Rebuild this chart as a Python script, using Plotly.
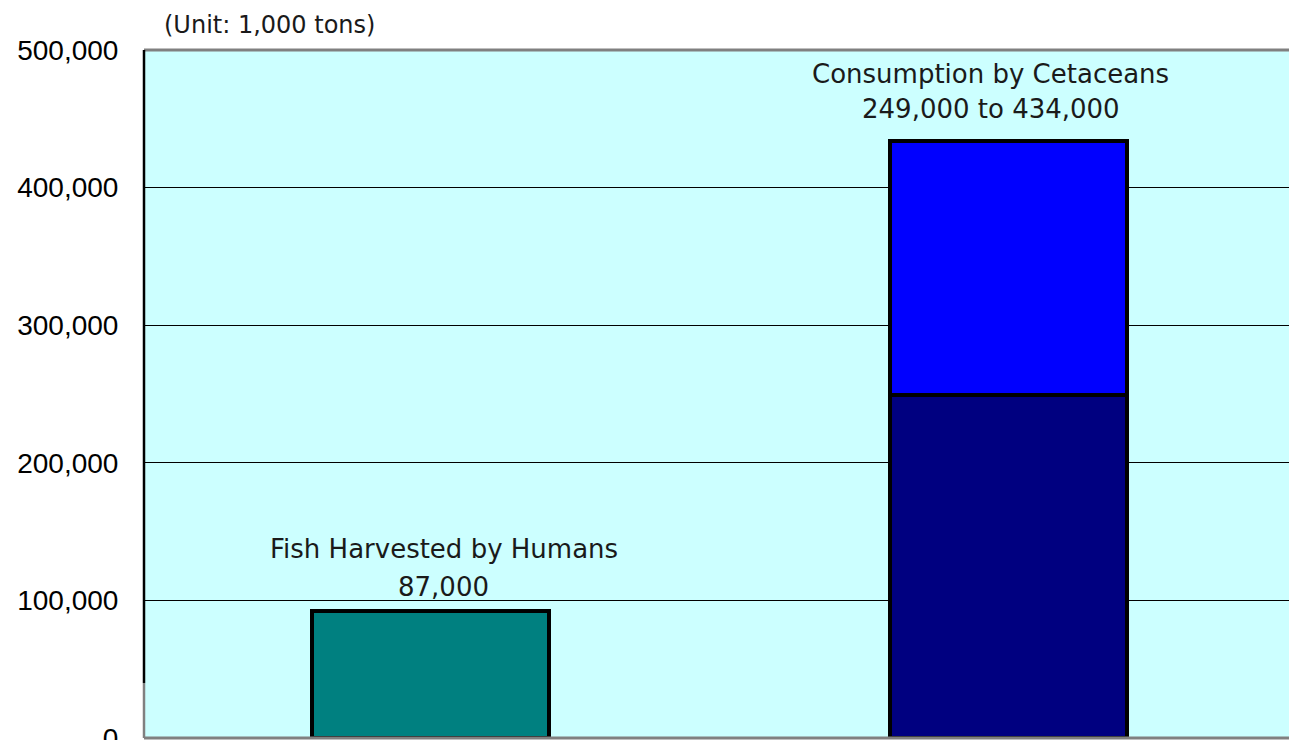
import plotly.graph_objects as go

categories = ["Fish Harvested by Humans", "Consumption by Cetaceans"]
human_values = [92000, None]
cetacean_low = [None, 249000]
cetacean_extra = [None, 185000]
tick_vals = [0, 100000, 200000, 300000, 400000, 500000]
tick_text = ["0", "100,000", "200,000", "300,000", "400,000", "500,000"]
label_lines = [["Fish Harvested by Humans", "87,000"], ["Consumption by Cetaceans", "249,000 to 434,000"]]
label_y = [[137000, 110000], [482500, 457000]]

x = [0, 1]
fig = go.Figure()
line = dict(color="black", width=4)
fig.add_trace(go.Bar(x=x, y=human_values, marker=dict(color="#008080", line=line), width=0.41))
fig.add_trace(go.Bar(x=x, y=cetacean_low, marker=dict(color="#000080", line=line), width=0.41))
fig.add_trace(go.Bar(x=x, y=cetacean_extra, marker=dict(color="#0000FF", line=line), width=0.41))

font_txt = dict(family="DejaVu Sans, sans-serif", size=26, color="#1a1a1a")
for i, (lines, ys) in enumerate(zip(label_lines, label_y)):
    xo = 0.024 if i == 0 else -0.03
    for t, yy in zip(lines, ys):
        fig.add_annotation(x=x[i] + xo, y=yy, text=t, showarrow=False, font=font_txt,
                           xanchor="center", yanchor="middle")

fig.add_annotation(xref="paper", yref="paper", x=0.0157, y=1.0, yshift=25, text="(Unit: 1,000 tons)",
                   showarrow=False, font=dict(family="DejaVu Sans, sans-serif", size=24, color="#1a1a1a"),
                   xanchor="left", yanchor="middle")

# frame lines
fig.add_shape(type="line", xref="paper", yref="paper", x0=0, x1=1, y0=1, y1=1,
              line=dict(color="#808080", width=3))
fig.add_shape(type="line", xref="paper", yref="paper", x0=0, x1=1, y0=0, y1=0,
              line=dict(color="#808080", width=3))
fig.add_shape(type="line", xref="paper", yref="y", x0=0, x1=0, y0=40000, y1=503000,
              line=dict(color="black", width=2.5))
fig.add_shape(type="line", xref="paper", yref="y", x0=0, x1=0, y0=0, y1=40000,
              line=dict(color="#808080", width=2.5))

fig.update_layout(
    width=1289, height=740,
    margin=dict(l=144, r=0, t=50, b=2, autoexpand=False),
    paper_bgcolor="white", plot_bgcolor="#CCFFFF",
    barmode="stack", showlegend=False,
    xaxis=dict(range=[-0.495, 1.486], showticklabels=False, showgrid=False, zeroline=False,
               fixedrange=True, automargin=False),
    yaxis=dict(range=[0, 500000], tickvals=tick_vals, ticktext=tick_text,
               showgrid=True, gridcolor="black", gridwidth=1, zeroline=False,
               ticks="outside", ticklen=19, tickcolor="rgba(0,0,0,0)",
               ticklabeloverflow="allow", automargin=False,
               tickfont=dict(family="Liberation Sans, Arial, sans-serif", size=28, color="black"),
               showline=False),
)

fig.write_html("out.html", config={"displayModeBar": False},
               post_script="document.body.style.margin='0';document.body.style.overflow='hidden';")
